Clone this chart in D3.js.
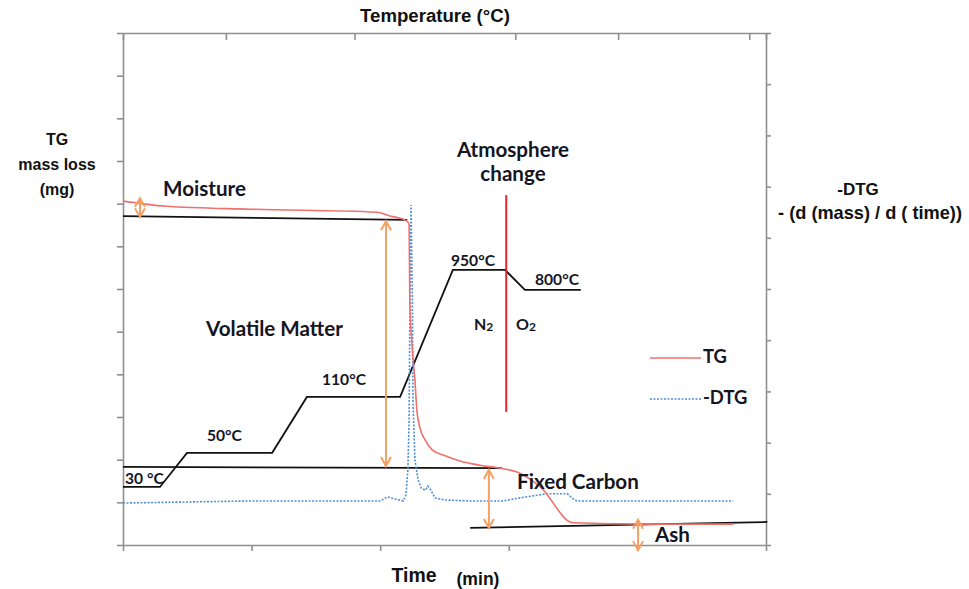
<!DOCTYPE html>
<html><head><meta charset="utf-8">
<script src="https://cdn.jsdelivr.net/npm/d3@7"></script>
<style>body{margin:0;background:#fff} svg{display:block}</style>
</head><body>
<svg id="c" width="969" height="589"></svg>
<script>
// ---------------- data ----------------
const tgTime = [0, 6.7, 19.8, 39.5, 41.5, 43.1, 44.2, 44.5, 44.6, 45.0, 45.4, 45.7, 46.2, 47.0, 48.1, 50.1, 52.4, 55.5, 58.6, 61.3, 64.9, 70.0, 82.0, 94.9];
const tgMass = [8.06, 7.94, 7.87, 7.80, 7.71, 7.66, 7.59, 7.50, 5.74, 4.57, 3.87, 3.16, 2.74, 2.46, 2.23, 2.09, 1.97, 1.87, 1.80, 1.71, 1.36, 0.52, 0.49, 0.49];

const dtgTime = [0, 19.8, 40.0, 41.1, 42.3, 43.6, 44.0, 44.3, 44.5, 44.6, 44.8, 45.0, 45.1, 45.4, 45.9, 46.4, 47.0, 47.4, 47.9, 48.5, 50.1, 54.0, 59.1, 61.7, 65.9, 69.1, 70.0, 70.6, 94.9];
const dtgValue = [0.82, 0.86, 0.86, 0.94, 0.90, 0.86, 0.98, 1.46, 2.44, 4.39, 6.64, 4.79, 2.83, 1.66, 1.27, 1.11, 1.07, 1.15, 1.07, 0.92, 0.88, 0.86, 0.86, 0.92, 1.00, 1.00, 0.90, 0.86, 0.86];

// heating programme (schematic level on the mass scale)
const progTime  = [0, 5.75, 9.95, 23.2, 28.6, 43.1, 51.3, 59.4, 62.5, 71.2];
const progLevel = [1.36, 1.36, 2.16, 2.16, 3.47, 3.47, 6.45, 6.45, 5.98, 5.98];
const progLabels = ["30 °C", "50°C", "110°C", "950°C", "800°C"];

// reference base lines [time, mass]
const moistureBase = [[0, 7.71], [44.2, 7.62]];
const carbonBase   = [[0, 1.83], [58.9, 1.80]];
const ashBase      = [[54.0, 0.40], [100.2, 0.54]];
const atmosphereTime = 59.6;
const atmosphereSpan = [3.12, 8.20];

// double arrows: time, low, high (mass units)
const arrowTime = [2.64, 40.9, 56.9, 80.1];
const arrowLow  = [7.69, 1.85, 0.40, -0.12];
const arrowHigh = [8.13, 7.59, 1.76, 0.59];

const timeTicks = [0, 20, 40, 60, 80, 100];
const massTicks = d3.range(0, 13);
const tempTickTimes = [0, 16, 36, 61, 77, 97.4, 100];
const dtgTicks = d3.range(0, 11);
const seriesNames = ["TG", "-DTG"];

// ---------------- layout ----------------
const svg = d3.select("#c");
const L = 123, R = 766, T = 33, B = 545;
const x = d3.scaleLinear().domain([0, 100]).range([L, R]);
const y = d3.scaleLinear().domain([0, 12]).range([B, T]);
const y2 = d3.scaleLinear().domain([0, 10]).range([B, T]);

const axisColor = "#8f8f8f";
const tgColor = "#f0706c";
const dtgColor = "#4d8fd8";
const arrowColor = "#f5a065";
const ink = "#15151f";
const calibri = "Lato, sans-serif";
const arial = "Liberation Sans, Arial, sans-serif";

function styleAxis(g) {
  g.selectAll("path,line").attr("stroke", axisColor).attr("stroke-width", 1.6);
  g.selectAll("text").remove();
}
svg.append("g").attr("transform", `translate(0,${B})`)
  .call(d3.axisBottom(x).tickValues(timeTicks).tickSize(6).tickSizeOuter(0)).call(styleAxis);
svg.append("g").attr("transform", `translate(0,${T})`)
  .call(d3.axisTop(x).tickValues(tempTickTimes).tickSize(-7).tickSizeOuter(0)).call(styleAxis);
svg.append("g").attr("transform", `translate(${L},0)`)
  .call(d3.axisLeft(y).tickValues(massTicks).tickSize(6).tickSizeOuter(0)).call(styleAxis);
svg.append("g").attr("transform", `translate(${R},0)`)
  .call(d3.axisRight(y2).tickValues(dtgTicks).tickSize(5).tickSizeOuter(0)).call(styleAxis);

const line = d3.line().x(d => x(d[0])).y(d => y(d[1]));
const smooth = d3.line().x(d => x(d[0])).y(d => y(d[1])).curve(d3.curveMonotoneX);
const line2 = d3.line().x(d => x(d[0])).y(d => y2(d[1]));

// base lines
[moistureBase, carbonBase, ashBase].forEach(b =>
  svg.append("path").attr("d", line(b)).attr("fill", "none").attr("stroke", "#111").attr("stroke-width", 1.8));

// heating programme
svg.append("path").attr("d", line(progTime.map((t, i) => [t, progLevel[i]])))
  .attr("fill", "none").attr("stroke", "#111").attr("stroke-width", 1.8);

// atmosphere change line
svg.append("line").attr("x1", x(atmosphereTime)).attr("x2", x(atmosphereTime))
  .attr("y1", y(atmosphereSpan[0])).attr("y2", y(atmosphereSpan[1]))
  .attr("stroke", "#e5252c").attr("stroke-width", 2);

// DTG
svg.append("path").attr("d", line2(dtgTime.map((t, i) => [t, dtgValue[i]])))
  .attr("fill", "none").attr("stroke", dtgColor).attr("stroke-width", 1.6)
  .attr("stroke-dasharray", "2,1.5");

// TG
svg.append("path").attr("d", smooth(tgTime.map((t, i) => [t, tgMass[i]])))
  .attr("fill", "none").attr("stroke", tgColor).attr("stroke-width", 1.6);

// arrows
arrowTime.forEach((t, i) => {
  const ax = x(t), y0 = y(arrowLow[i]), y1 = y(arrowHigh[i]);
  const h = Math.min(9, (y0 - y1) / 2.2), w = 5;
  const g = svg.append("g").attr("fill", "none").attr("stroke", arrowColor).attr("stroke-width", 2);
  g.append("line").attr("x1", ax).attr("x2", ax).attr("y1", y0).attr("y2", y1);
  g.append("path").attr("d", `M${ax - w},${y1 + h}L${ax},${y1}L${ax + w},${y1 + h}`);
  g.append("path").attr("d", `M${ax - w},${y0 - h}L${ax},${y0}L${ax + w},${y0 - h}`);
});

function fitSize(text, family, weight, w, base) {
  const t = svg.append("text").attr("font-family", family).attr("font-weight", weight)
    .attr("font-size", base).text(text);
  const m = t.node().getComputedTextLength();
  t.remove();
  return +(base * w / m).toFixed(2);
}
function label(text, lx, ly, size, opts = {}) {
  return svg.append("text").attr("x", lx).attr("y", ly)
    .attr("text-anchor", opts.anchor || "start")
    .attr("font-family", opts.family || calibri)
    .attr("font-weight", opts.weight || 400)
    .attr("font-size", size).attr("fill", opts.fill || ink).text(text);
}

// legend
const legY = [358, 399];
const legSize = fitSize("TG", calibri, 700, 24, 15);
seriesNames.forEach((n, i) => {
  svg.append("line").attr("x1", 650).attr("x2", 701).attr("y1", legY[i]).attr("y2", legY[i])
    .attr("stroke", i ? dtgColor : tgColor).attr("stroke-width", 1.6)
    .attr("stroke-dasharray", i ? "2,1.5" : null);
  label(n, 703, legY[i] + 5, legSize, {weight: 700});
});

// annotation labels (one common size)
const bigSize = fitSize("Moisture", calibri, 700, 83, 20);
label("Moisture", 163, 196, bigSize, {weight: 700});
label("Volatile Matter", 206, 336, bigSize, {weight: 700});
label("Atmosphere", 513, 157, bigSize, {weight: 700, anchor: "middle"});
label("change", 513, 181, bigSize, {weight: 700, anchor: "middle"});
label("Fixed Carbon", 517, 489, bigSize, {weight: 700});
label("Ash", 655, 542, bigSize, {weight: 700});

// programme labels
const progSize = fitSize("950°C", calibri, 700, 44, 16);
const progLabelPos = [[125, 484], [207, 441], [322, 385], [451, 266], [535, 285]];
progLabels.forEach((l, i) => label(l, progLabelPos[i][0], progLabelPos[i][1], progSize, {weight: 700}));

// gas labels
[["N", 474], ["O", 516]].forEach(([g, gx]) => {
  const tx = label("", gx, 330, 16, {weight: 700});
  tx.append("tspan").text(g);
  tx.append("tspan").attr("font-size", 12).attr("dy", 1).text("2");
});

// axis titles (Arial bold)
const ab = {family: arial, weight: 700, anchor: "middle", fill: "#111"};
label("Temperature (°C)", 435, 22, fitSize("Temperature (°C)", arial, 700, 150, 16), ab);
label("TG", 57, 145, 16, ab);
label("mass loss", 57, 170, 16, ab);
label("(mg)", 57, 195, 16, ab);
label("-DTG", 858, 195, 17, ab);
label("- (d (mass) / d ( time))", 870, 219, fitSize("- (d (mass) / d ( time))", arial, 700, 184, 16), ab);
label("Time", 414, 582, fitSize("Time", arial, 700, 45, 16), ab);
label("(min)", 478, 585, fitSize("(min)", arial, 700, 43, 16), ab);
</script>
</body></html>
